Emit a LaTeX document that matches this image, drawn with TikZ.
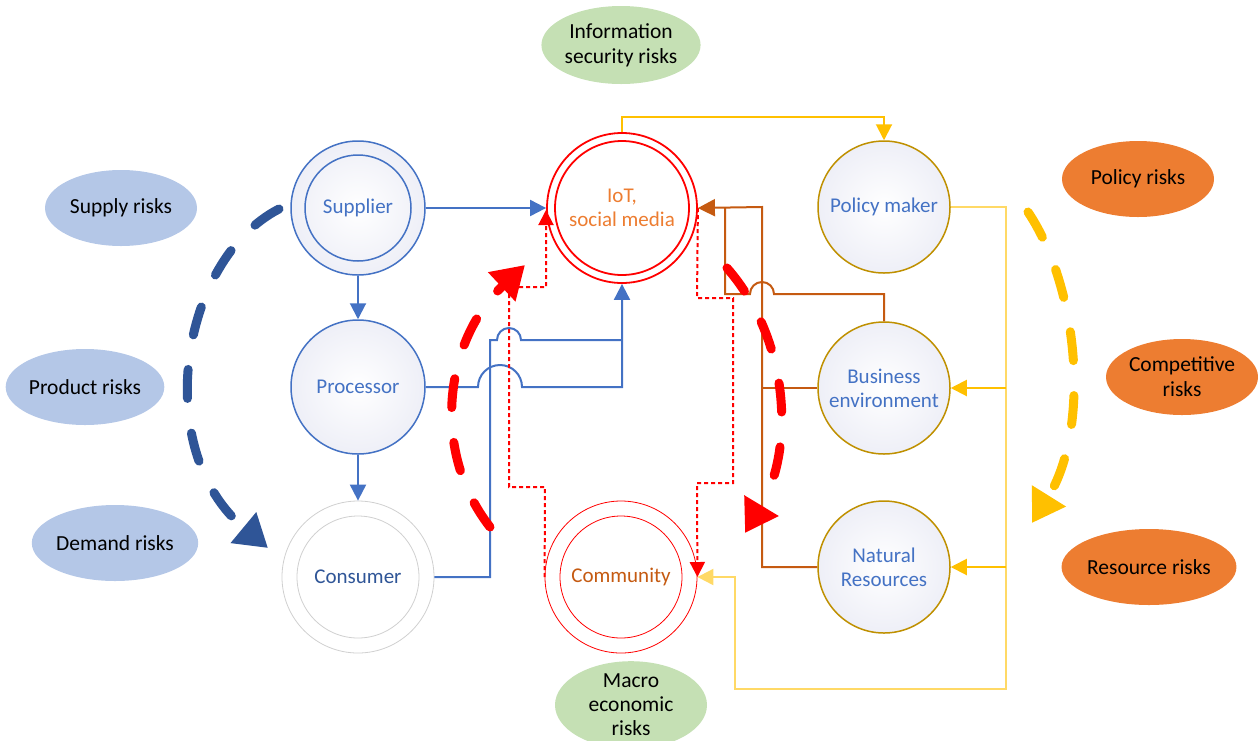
\documentclass[tikz,border=0pt]{standalone}
\usepackage{fontspec}
\setmainfont{Carlito}
\usetikzlibrary{arrows.meta,shapes.geometric}
\definecolor{cblue}{HTML}{4472C4}
\definecolor{dblue}{HTML}{2F5597}
\definecolor{cfill}{HTML}{EEEFF7}
\definecolor{corange}{HTML}{ED7D31}
\definecolor{cbrown}{HTML}{C55A11}
\definecolor{cgold}{HTML}{BF9000}
\definecolor{cyel}{HTML}{FFC000}
\definecolor{lyel}{HTML}{FFD966}
\definecolor{rblue}{HTML}{B4C7E7}
\definecolor{rgreen}{HTML}{C5E0B4}
\definecolor{cgray}{HTML}{D0D0D0}
\begin{document}
\begin{tikzpicture}[x=1pt,y=-1pt,
  nd/.style={circle, inner sep=0pt, align=center, font=\fontsize{21}{24}\selectfont},
  shadefill/.style={shading=radial, inner color=white, outer color=cfill},
  bluecirc/.style={nd, draw=cblue, line width=1.5pt, minimum size=134pt, text=cblue, shadefill},
  goldcirc/.style={nd, draw=cgold, line width=1.5pt, minimum size=132pt, text=cblue, shadefill},
  risk/.style={ellipse, inner sep=0pt, minimum width=152pt, minimum height=76pt, align=center, font=\fontsize{21.5}{25}\selectfont, text=black},
  bluearrow/.style={draw=cblue, line width=2pt, -{Triangle[length=16pt,width=16pt]}},
  blueline/.style={draw=cblue, line width=2pt},
  reddot/.style={draw=red, line width=2pt, dash pattern=on 4pt off 3pt, -{Triangle[length=15pt,width=15pt]}},
  yelarrow/.style={draw=cyel, line width=2pt, -{Triangle[length=16pt,width=16pt]}},
  lyelarrow/.style={draw=lyel, line width=2pt, -{Triangle[length=16pt,width=16pt,fill=lyel]}},
  brownline/.style={draw=cbrown, line width=2pt},
  brownarrow/.style={draw=cbrown, line width=2pt, -{Triangle[length=17pt,width=17pt]}},
  bigdash/.style={line width=9pt, line cap=round, dash pattern=on 29pt off 35pt, -{Triangle[length=32pt,width=38pt]}}
]
\useasboundingbox (0,0) rectangle (1258,740);

% risk ellipses
\node[risk, fill=rgreen, minimum width=148pt, minimum height=78pt] (rinfo) at (621,45) {Information\\security risks};
\node[risk, fill=rgreen, minimum height=80pt, font=\fontsize{21.5}{24}\selectfont] (rmacro) at (631,705) {Macro\\economic\\risks};
\node[risk, fill=rblue] (rsupply) at (121,208) {Supply risks};
\node[risk, fill=rblue] (rproduct) at (85,387) {Product risks};
\node[risk, fill=rblue] (rdemand) at (115,543) {Demand risks};
\node[risk, fill=corange] (rpolicy) at (1138,179) {Policy risks};
\node[risk, fill=corange] (rcomp) at (1182,377) {Competitive\\risks};
\node[risk, fill=corange] (rres) at (1149,567) {Resource risks};

% main nodes
\node[bluecirc] (sup) at (358,208) {Supplier};
\draw[cblue, line width=1.5pt] (sup.center) circle[radius=53];
\node[bluecirc] (proc) at (358,387) {Processor};
\node[nd, draw=cgray, line width=0.8pt, minimum size=152pt, fill=white, text=dblue] (cons) at (358,577) {Consumer};
\draw[cgray, line width=0.8pt] (cons.center) circle[radius=61];
\node[nd, draw=red, line width=1.8pt, minimum size=150pt, fill=white, text=corange] (iot) at (622,208) {IoT,\\social media};
\draw[red, line width=1.8pt] (iot.center) circle[radius=67];
\node[nd, draw=red, line width=0.8pt, minimum size=152pt, fill=white, text=cbrown] (comm) at (621,577) {Community};
\draw[red, line width=0.8pt] (comm.center) circle[radius=61];
\node[goldcirc] (pol) at (884,207) {Policy maker};
\node[goldcirc] (bus) at (884,388) {Business\\environment};
\node[goldcirc] (nat) at (884,567) {Natural\\Resources};

% blue connectors
\draw[bluearrow] (sup.east) -- (iot.west);
\draw[bluearrow] (sup.south) -- (proc.north);
\draw[bluearrow] (proc.south) -- (cons.north);
\draw[blueline] (cons.east) -- (490,577) -- (490,340) -- (497,340)
  arc[start angle=180, end angle=360, radius=12] -- (622,340);
\draw[bluearrow] (proc.east) -- (478,387) arc[start angle=180, end angle=360, radius=22]
  -- (622,387) -- (iot.south);

% red dotted connectors
\draw[reddot] (comm.west) -- (545,487) -- (509,487) -- (509,287) -- (546,287) -- (546,210);
\draw[reddot] (iot.east) -- (697,298) -- (733,298) -- (733,483) -- (697,483) -- (comm.east);

% yellow connectors
\draw[yelarrow] (iot.north) -- (622,117) -- (884,117) -- (pol.north);
\draw[lyelarrow] (pol.east) -- (1006,207) -- (1006,689) -- (735,689) -- (735,577) -- (comm.east);
\draw[yelarrow] (1006,388) -- (bus.east);
\draw[yelarrow] (1006,567) -- (nat.east);

% brown connectors
\draw[brownline] (bus.north) -- (884,294) -- (774,294)
  arc[start angle=0, end angle=-180, radius=12] -- (725,294) -- (725,207);
\draw[brownline] (bus.west) -- (762,388);
\draw[brownarrow] (nat.west) -- (762,567) -- (762,207) -- (iot.east);

% big dashed flows
\coordinate (bs) at (279,209);
\coordinate (be) at (268,548);
\draw[bigdash, dblue] (bs) .. controls (180,260) and (150,450) .. (be);
\coordinate (rs) at (490,527);
\coordinate (re) at (525,265);
\draw[bigdash, red] (rs) .. controls (430,450) and (445,340) .. (re);
\coordinate (r2s) at (727,268);
\coordinate (r2e) at (745,533);
\draw[bigdash, red] (r2s) .. controls (790,340) and (795,450) .. (r2e);
\coordinate (ys) at (1028,212);
\coordinate (ye) at (1032,523);
\draw[bigdash, cyel] (ys) .. controls (1080,290) and (1090,430) .. (ye);
\end{tikzpicture}
\end{document}
